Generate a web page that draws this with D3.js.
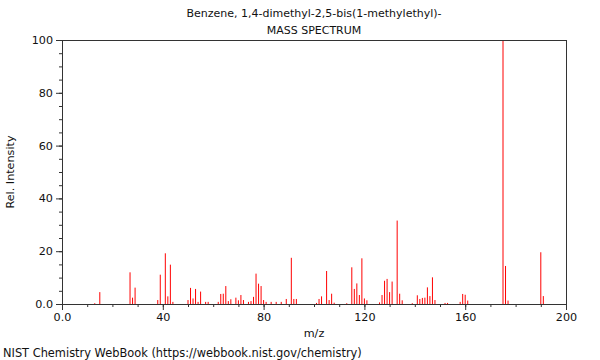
<!DOCTYPE html>
<html><head><meta charset="utf-8">
<script src="https://cdn.jsdelivr.net/npm/d3@7"></script>
<style>body{margin:0;background:#fff;} svg{display:block;font-family:"DejaVu Sans",sans-serif;}</style>
</head><body><svg id="c" width="600" height="360"></svg>
<script>
const titleLines = ["Benzene, 1,4-dimethyl-2,5-bis(1-methylethyl)-", "MASS SPECTRUM"];
const mz = [13,15,27,28,29,38,39,41,42,43,44,50,51,52,53,54,55,57,58,62,63,64,65,66,67,69,70,71,72,74,75,76,77,78,79,80,81,83,85,87,89,91,92,93,101,102,103,105,106,107,108,113,115,116,117,118,119,120,121,126,127,128,129,130,131,133,134,135,139,141,142,143,144,145,146,147,148,152,153,158,159,160,161,175,176,177,190,191];
const intensity = [0.3,4.5,12.0,2.4,6.2,1.5,11.1,19.2,2.9,14.9,0.8,1.5,6.1,2.1,5.7,0.8,4.7,0.8,0.8,0.8,3.8,3.9,6.8,1.1,1.8,2.4,1.4,3.4,1.5,0.8,1.1,2.7,11.5,7.7,6.8,1.5,0.8,0.8,0.8,0.8,1.9,17.5,1.9,1.9,0.4,1.9,2.9,12.5,1.5,3.9,0.5,0.3,13.9,5.7,7.8,3.4,17.3,2.1,1.4,0.6,3.4,8.8,9.5,4.5,8.5,31.6,3.9,1.4,0.3,3.3,1.9,2.3,2.4,6.3,3.0,10.1,1.5,0.4,0.4,0.8,3.8,3.5,1.3,100,14.4,1.3,19.6,3.0];
const xTicks = [0,40,80,120,160,200];
const yTicks = [0,20,40,60,80,100];

const svg = d3.select("#c");
const m = {l:62, r:566, t:40, b:304};
const x = d3.scaleLinear().domain([0,200]).range([m.l, m.r]);
const y = d3.scaleLinear().domain([0,100]).range([m.b, m.t]);
const fmt = d => d === 0 ? "0.0" : String(d);

// peaks
svg.append("g").selectAll("line").data(mz).join("line")
  .attr("x1", d => x(d)).attr("x2", d => x(d))
  .attr("y1", y(0)).attr("y2", (d,i) => y(intensity[i]))
  .attr("stroke", "#ff0000").attr("stroke-width", 1);

// frame top and right
svg.append("line").attr("x1", m.l).attr("x2", m.r).attr("y1", m.t+0.5).attr("y2", m.t+0.5).attr("stroke", "#333");
svg.append("line").attr("x1", m.r+0.5).attr("x2", m.r+0.5).attr("y1", m.t).attr("y2", m.b).attr("stroke", "#333");

// axes with minor ticks
const xa = svg.append("g").attr("transform", `translate(0,${m.b})`);
xa.call(d3.axisBottom(x).tickValues(d3.range(0,201,10)).tickSize(3).tickFormat(""));
xa.append("g").call(d3.axisBottom(x).tickValues(xTicks).tickSize(6).tickFormat(fmt));
const ya = svg.append("g").attr("transform", `translate(${m.l},0)`);
ya.call(d3.axisLeft(y).tickValues(d3.range(0,101,5)).tickSize(3).tickFormat(""));
ya.append("g").call(d3.axisLeft(y).tickValues(yTicks).tickSize(6).tickFormat(fmt));
svg.selectAll(".domain").attr("stroke", "#333");
svg.selectAll(".tick line").attr("stroke", "#333");
svg.selectAll(".tick text").attr("font-family", "DejaVu Sans").attr("font-size", 11.2).attr("fill", "#111");

// titles
svg.append("text").attr("x", 314).attr("y", 17).attr("text-anchor","middle").attr("font-size", 11).attr("fill","#111").text(titleLines[0]);
svg.append("text").attr("x", 314).attr("y", 34).attr("text-anchor","middle").attr("font-size", 11).attr("fill","#111").text(titleLines[1]);
svg.append("text").attr("x", 314).attr("y", 337).attr("text-anchor","middle").attr("font-size", 11.2).attr("fill","#111").text("m/z");
svg.append("text").attr("transform", "translate(14,172) rotate(-90)").attr("text-anchor","middle").attr("font-size", 11.2).attr("fill","#111").text("Rel. Intensity");
svg.append("text").attr("x", 3).attr("y", 357).attr("font-size", 11.4).attr("fill","#111").text("NIST Chemistry WebBook (https://webbook.nist.gov/chemistry)");
</script></body></html>
